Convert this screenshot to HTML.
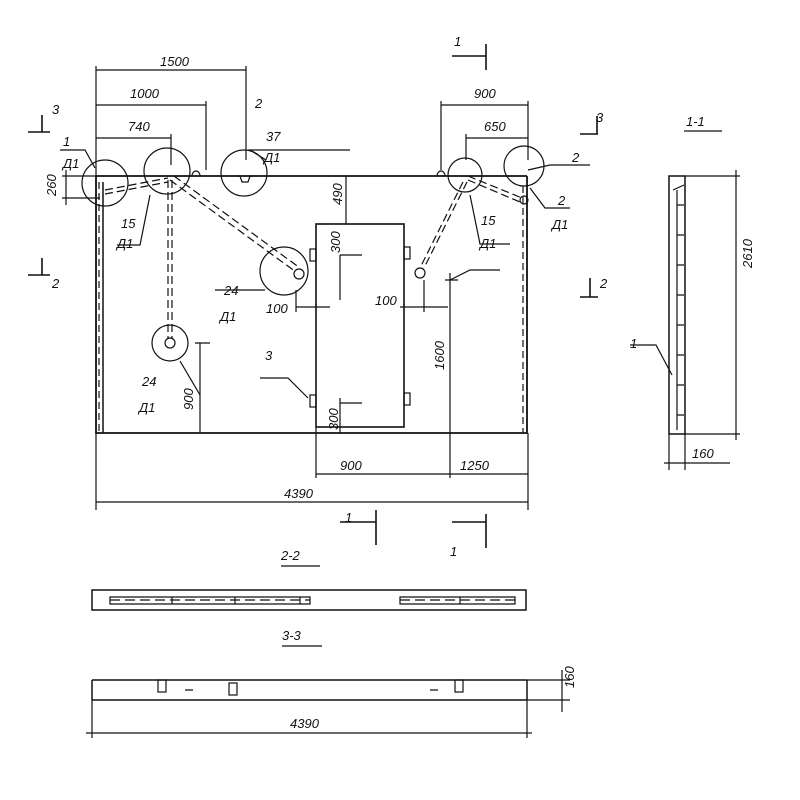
<!DOCTYPE html>
<html><head><style>body{margin:0;background:#fff}svg{display:block}text{font-family:"Liberation Sans",sans-serif;font-style:italic;font-size:13px;fill:#111;stroke:none}</style></head><body>
<svg width="800" height="800" viewBox="0 0 800 800" stroke="#111" stroke-width="1.2" fill="none">
<path d="M96 176H527M96 176V433H527V176" stroke-width="1.8"/>
<path d="M103 182V433" stroke-width="1.5"/>
<path d="M99 182V433M523 186V433" stroke-dasharray="7 4"/>
<rect x="316" y="224" width="88" height="203" stroke-width="1.6"/>
<rect x="310" y="249" width="6" height="12"/><rect x="310" y="395" width="6" height="12"/>
<rect x="404" y="247" width="6" height="12"/><rect x="404" y="393" width="6" height="12"/>
<circle cx="105" cy="183" r="23"/><circle cx="167" cy="171" r="23"/><circle cx="244" cy="173" r="23"/>
<circle cx="284" cy="271" r="24"/><circle cx="170" cy="343" r="18"/><circle cx="465" cy="175" r="17"/><circle cx="524" cy="166" r="20"/>
<circle cx="299" cy="274" r="5"/><circle cx="170" cy="343" r="5"/><circle cx="420" cy="273" r="5"/><circle cx="524" cy="200" r="4"/>
<path d="M192 176a4 5 0 0 1 8 0M437 176a4 5 0 0 1 8 0"/>
<path d="M236 176h4l2 6h6l2-6h4"/>
<g stroke-dasharray="8 4"><path d="M105 190L168 178M105 194L168 182M168 180V338M172 180V338M170 180L296 272M174 176L300 268M463 182L420 268M467 182L424 268M468 176L522 198M468 180L520 202"/></g>
<path d="M96 66V176M246 66V160M96 70H246M96 101V176M206 101V170M96 105H206M96 134V176M171 134V165M96 138H171M441 101V170M528 101V160M441 105H528M466 134V160M466 138H528"/>
<text x="160" y="66">1500</text><text x="130" y="98">1000</text><text x="128" y="131">740</text><text x="474" y="98">900</text><text x="484" y="131">650</text>
<path d="M62 176H96M62 198H100M66 170V205"/><text x="56" y="196" transform="rotate(-90 56 196)">260</text>
<path d="M60 150H85L95 168M117 245H140L150 195M266 160L250 150H350M215 290H253L265 290M200 395L180 361M450 280L470 270H500M470 195L480 244H510M528 170L550 165H590M530 188L545 208H570M260 378H288L308 398"/>
<text x="63" y="146">1</text><text x="63" y="168">Д1</text><text x="121" y="228">15</text><text x="117" y="248">Д1</text>
<text x="255" y="108">2</text><text x="266" y="141">37</text><text x="264" y="162">Д1</text>
<text x="224" y="295">24</text><text x="220" y="321">Д1</text><text x="266" y="313">100</text>
<text x="142" y="386">24</text><text x="139" y="412">Д1</text><text x="265" y="360">3</text>
<text x="481" y="225">15</text><text x="480" y="248">Д1</text><text x="572" y="162">2</text><text x="558" y="205">2</text><text x="552" y="229">Д1</text>
<text x="375" y="305">100</text>
<path d="M346 176V224M340 255V300M340 255H362M340 398V433M340 403H362M296 290V312M296 307H330M400 307H448M424 280V312M450 273V433M445 280H458M200 343V433M195 343H210"/>
<text x="342" y="205" transform="rotate(-90 342 205)">490</text><text x="340" y="253" transform="rotate(-90 340 253)">300</text>
<text x="338" y="430" transform="rotate(-90 338 430)">300</text><text x="444" y="370" transform="rotate(-90 444 370)">1600</text>
<text x="193" y="410" transform="rotate(-90 193 410)">900</text>
<path d="M316 427V478M528 433V510M450 433V478M96 433V510M316 474H528M96 502H528"/>
<text x="340" y="470">900</text><text x="460" y="470">1250</text><text x="284" y="498">4390</text>
<g stroke-width="1.6"><path d="M452 56H486M486 44V70M340 522H376M376 510V545M452 522H486M486 514V548M42 115V132M28 132H50M580 134H598M597 116V134M42 258V275M28 275H50M580 297H598M590 278V297"/></g>
<text x="454" y="46">1</text><text x="52" y="114">3</text><text x="52" y="288">2</text><text x="596" y="122">3</text><text x="600" y="288">2</text>
<text x="345" y="522">1</text><text x="450" y="556">1</text>
<text x="686" y="126" font-size="15">1-1</text><path d="M684 131H722"/>
<rect x="669" y="176" width="16" height="258" stroke-width="1.5"/>
<path d="M677 190V430M673 190L684 185M677 205H684M677 235H684M677 265H684M677 295H684M677 325H684M677 355H684M677 385H684M677 415H684"/>
<path d="M685 176H740M685 434H740M736 170V440M669 434V470M685 434V470M664 463H730"/>
<text x="752" y="268" transform="rotate(-90 752 268)">2610</text><text x="692" y="458">160</text>
<path d="M630 345H656L672 375"/><text x="630" y="348">1</text>
<text x="281" y="560" font-size="15">2-2</text><path d="M281 566H320"/>
<rect x="92" y="590" width="434" height="20" stroke-width="1.5"/>
<path d="M110 597H310V604H110ZM400 597H515V604H400Z"/>
<path d="M110 600H310M400 600H515" stroke-dasharray="10 5"/>
<path d="M172 597V604M235 597V604M300 597V604M460 597V604"/>
<text x="282" y="640" font-size="15">3-3</text><path d="M282 646H322"/>
<path d="M92 680H527M92 700H527M92 680V700M527 680V700" stroke-width="1.5"/>
<rect x="229" y="683" width="8" height="12"/><rect x="158" y="680" width="8" height="12"/><rect x="455" y="680" width="8" height="12"/>
<path d="M185 690H193M430 690H438M527 680H570M527 700H570M562 670V712M92 700V738M527 700V738M86 733H532"/>
<text x="574" y="688" transform="rotate(-90 574 688)">160</text><text x="290" y="728">4390</text>
</svg>
</body></html>
